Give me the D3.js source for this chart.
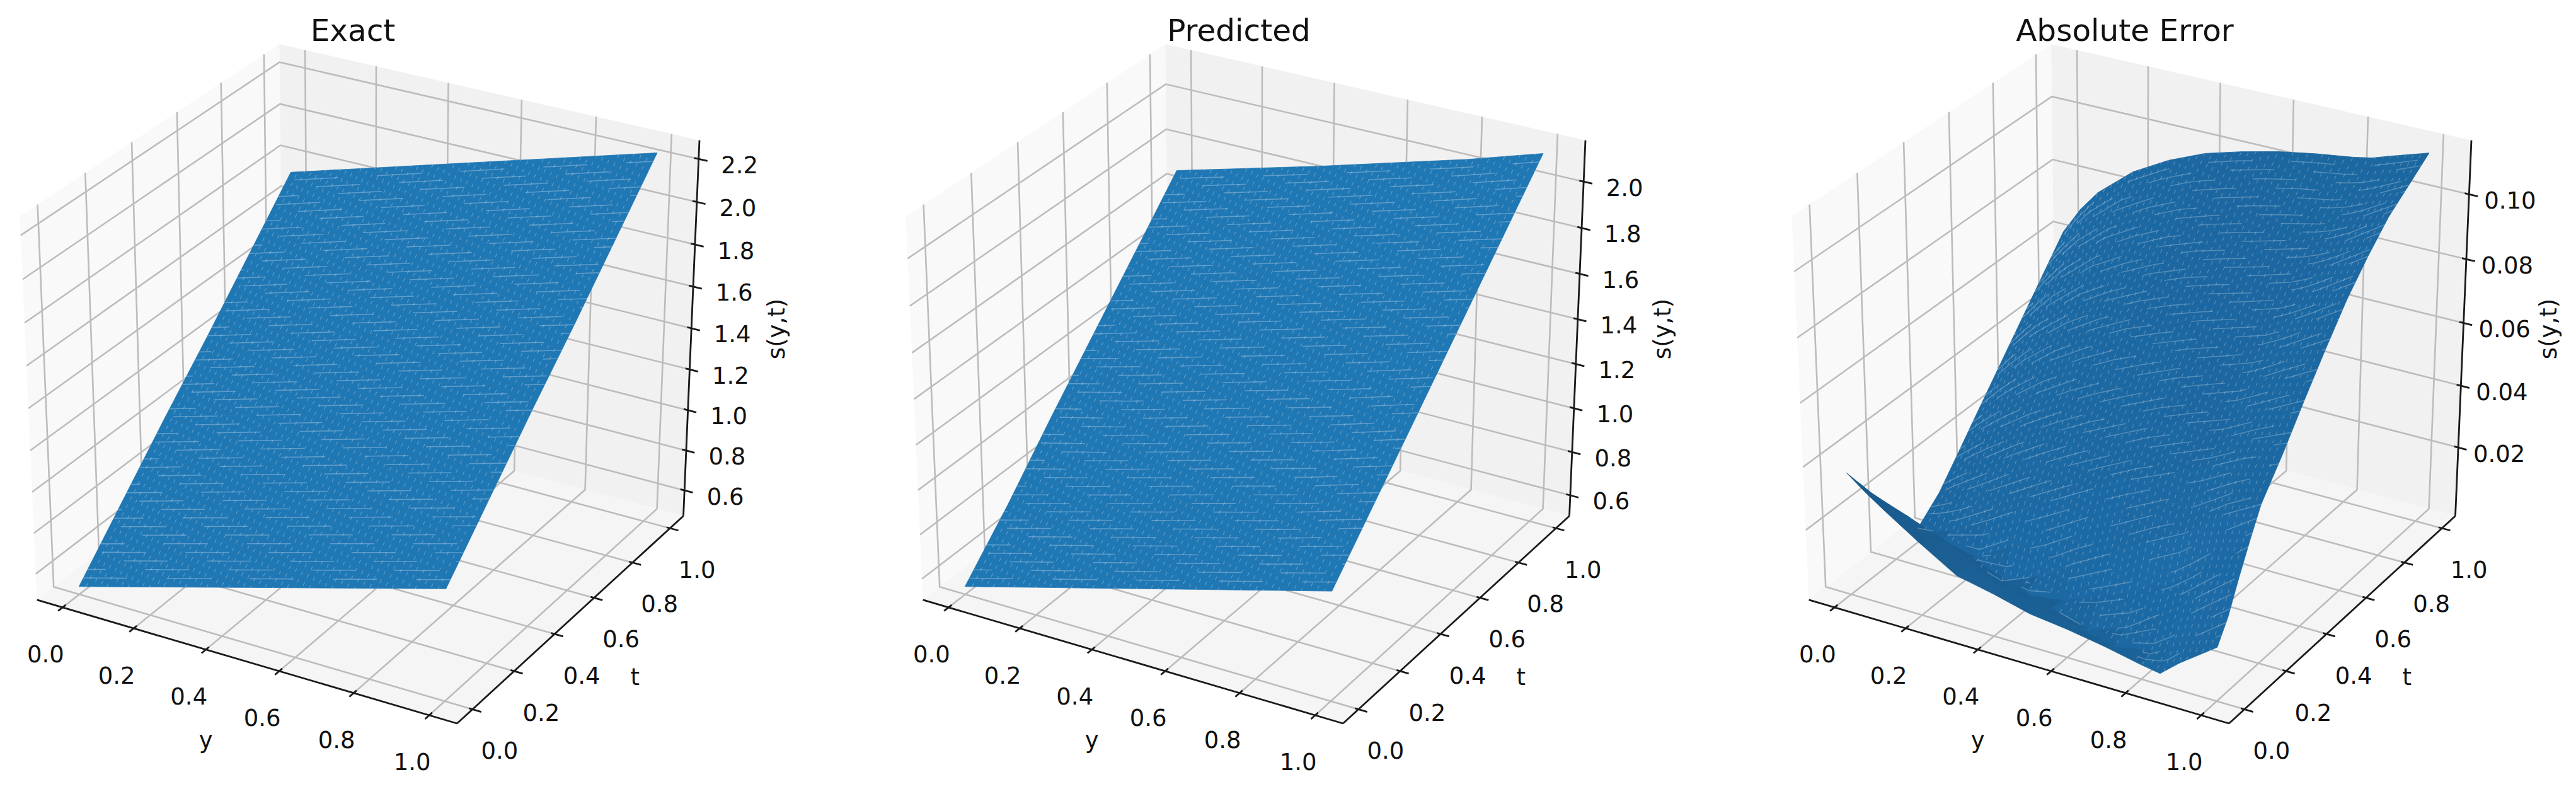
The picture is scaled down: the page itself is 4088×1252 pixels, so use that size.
<!DOCTYPE html>
<html>
<head>
<meta charset="utf-8">
<script src="https://cdn.jsdelivr.net/npm/d3@7"></script>
<style>
  body { margin: 0; background: #fff; }
  text { font-family: "DejaVu Sans", sans-serif; fill: #111; }
</style>
</head>
<body>
<script>
// Tick labels
const unitTicks = [0, 0.2, 0.4, 0.6, 0.8, 1];
const exactTicks = [0.6, 0.8, 1.0, 1.2, 1.4, 1.6, 1.8, 2.0, 2.2];
const predictedTicks = [0.6, 0.8, 1.0, 1.2, 1.4, 1.6, 1.8, 2.0];
const errorTicks = [0.02, 0.04, 0.06, 0.08, 0.10];

// Grid nodes of the two plane-like surfaces
const planeY = [0, 0.2, 0.4, 0.6, 0.8, 1];
const planeT = [0, 0.2, 0.4, 0.6, 0.8, 1];

// s(y,t), one row per t
const exactValues = [
  [0.51, 0.61, 0.71, 0.81, 0.91, 1.01],
  [0.76, 0.86, 0.96, 1.06, 1.16, 1.26],
  [1.01, 1.11, 1.21, 1.31, 1.41, 1.51],
  [1.25, 1.35, 1.45, 1.55, 1.65, 1.75],
  [1.50, 1.60, 1.70, 1.80, 1.90, 2.00],
  [1.75, 1.85, 1.95, 2.05, 2.15, 2.25]
];
const predictedValues = [
  [0.54, 0.63, 0.72, 0.81, 0.90, 0.99],
  [0.76, 0.85, 0.94, 1.03, 1.12, 1.22],
  [1.00, 1.08, 1.17, 1.26, 1.35, 1.45],
  [1.23, 1.32, 1.41, 1.50, 1.59, 1.68],
  [1.46, 1.55, 1.64, 1.73, 1.82, 1.91],
  [1.69, 1.775, 1.86, 1.95, 2.04, 2.14]
];

// Error surface has a fold near t=0, so it gets more rows and columns
const errorY = [0, 0.05, 0.1, 0.2, 0.3, 0.4, 0.5, 0.6, 0.7, 0.8, 0.85, 0.9, 1];
const errorT = [0, 0.05, 0.1, 0.15, 0.2, 0.25, 0.3, 0.4, 0.5, 0.6, 0.7, 0.8, 0.9, 1];
const errorValues = [
  [0.0365, 0.0320, 0.0280, 0.0205, 0.0135, 0.0110, 0.0080, 0.0065, 0.0045, 0.0020, 0.0010, 0.0060, 0.0145],
  [0.0306, 0.0275, 0.0245, 0.0185, 0.0130, 0.0095, 0.0062, 0.0040, 0.0015, 0.0035, 0.0075, 0.0125, 0.0212],
  [0.0247, 0.0225, 0.0205, 0.0160, 0.0115, 0.0075, 0.0040, 0.0005, 0.0045, 0.0125, 0.0165, 0.0215, 0.0307],
  [0.0189, 0.0170, 0.0150, 0.0110, 0.0065, 0.0022, 0.0035, 0.0085, 0.0135, 0.0200, 0.0245, 0.0295, 0.0394],
  [0.0130, 0.0108, 0.0085, 0.0040, 0.0003, 0.0050, 0.0125, 0.0190, 0.0260, 0.0320, 0.0365, 0.0410, 0.0475],
  [0.0075, 0.0055, 0.0035, 0.0020, 0.0090, 0.0150, 0.0220, 0.0280, 0.0340, 0.0395, 0.0430, 0.0465, 0.0525],
  [0.0020, 0.0025, 0.0045, 0.0110, 0.0180, 0.0245, 0.0310, 0.0370, 0.0420, 0.0470, 0.0500, 0.0530, 0.0575],
  [0.0081, 0.0122, 0.0160, 0.0235, 0.0305, 0.0370, 0.0425, 0.0480, 0.0525, 0.0565, 0.0595, 0.0625, 0.0685],
  [0.0171, 0.0220, 0.0265, 0.0345, 0.0415, 0.0475, 0.0530, 0.0580, 0.0620, 0.0660, 0.0690, 0.0725, 0.0790],
  [0.0262, 0.0322, 0.0375, 0.0465, 0.0535, 0.0595, 0.0640, 0.0680, 0.0715, 0.0750, 0.0780, 0.0815, 0.0889],
  [0.0352, 0.0418, 0.0475, 0.0565, 0.0635, 0.0690, 0.0735, 0.0770, 0.0800, 0.0835, 0.0860, 0.0895, 0.0970],
  [0.0442, 0.0510, 0.0570, 0.0665, 0.0730, 0.0785, 0.0825, 0.0855, 0.0885, 0.0915, 0.0935, 0.0965, 0.1041],
  [0.0532, 0.0605, 0.0670, 0.0765, 0.0830, 0.0880, 0.0915, 0.0945, 0.0970, 0.0990, 0.1005, 0.1030, 0.1090],
  [0.0622, 0.0708, 0.0775, 0.0868, 0.0931, 0.0979, 0.1011, 0.1038, 0.1058, 0.1074, 0.1085, 0.1104, 0.1140]
];

const panels = [
  { title: "Exact", dx: 0, ys: planeY, ts: planeT, values: exactValues, zTicks: exactTicks, zFrame: [0.471, 2.286], shaded: false, zFormat: d3.format(".1f") },
  { title: "Predicted", dx: 1406, ys: planeY, ts: planeT, values: predictedValues, zTicks: predictedTicks, zFrame: [0.504, 2.176], shaded: false, zFormat: d3.format(".1f") },
  { title: "Absolute Error", dx: 2812, ys: errorY, ts: errorT, values: errorValues, zTicks: errorTicks, zFrame: [-0.00256, 0.1164], shaded: true, zFormat: d3.format(".2f") }
];

const svg = d3.select("body").append("svg")
  .attr("width", 4088)
  .attr("height", 1252);

// Same camera as a default mplot3d axes (elev 30, azim -60, dist 10)
const elev = 30 * Math.PI / 180;
const azim = -60 * Math.PI / 180;
const dist = 10;
const n = [Math.cos(elev) * Math.cos(azim), Math.cos(elev) * Math.sin(azim), Math.sin(elev)];
const u = [-n[1] / Math.hypot(n[0], n[1]), n[0] / Math.hypot(n[0], n[1]), 0];
const v = [n[1] * u[2] - n[2] * u[1], n[2] * u[0] - n[0] * u[2], n[0] * u[1] - n[1] * u[0]];
const dot = (a, b) => a[0] * b[0] + a[1] * b[1] + a[2] * b[2];

function view(p) {
  const s = dist / (dist - dot(p, n));
  return [dot(p, u) * s, dot(p, v) * s];
}

// Box corners decide how view coordinates land on the page
const corners = d3.cross([-0.5, 0.5], d3.cross([-0.5, 0.5], [-0.5, 0.5]), (a, b) => [a, b[0], b[1]]).map(view);
const pageX = d3.scaleLinear().domain(d3.extent(corners, d => d[0])).range([31.5, 1110]);
const pageY = d3.scaleLinear().domain(d3.extent(corners, d => d[1])).range([1148, 70]);
const toPage = p => { const w = view(p); return [pageX(w[0]), pageY(w[1])]; };

// Data 0..1 sits inside the pane with the usual margins
const unitFrame = d3.scaleLinear().domain([-0.0729, 1.0729]).range([-0.5, 0.5]);
const line = d3.line();

// Only the fold strip really changes colour, the rest stays close to one blue
const shadeColor = d3.scaleLinear()
  .domain([0.22, 0.36, 0.55])
  .range(["#1a5a8b", "#1b659e", "#1d6ca8"])
  .clamp(true);

function drawPanel(cfg) {
  const g = svg.append("g").attr("transform", `translate(${cfg.dx},0)`);
  const zFrame = d3.scaleLinear().domain(cfg.zFrame).range([-0.5, 0.5]);

  // Panes
  const panes = [
    { pts: [[-.5, -.5, -.5], [-.5, .5, -.5], [-.5, .5, .5], [-.5, -.5, .5]], fill: "#f9f9f9" },
    { pts: [[-.5, .5, -.5], [.5, .5, -.5], [.5, .5, .5], [-.5, .5, .5]], fill: "#f1f1f1" },
    { pts: [[-.5, -.5, -.5], [.5, -.5, -.5], [.5, .5, -.5], [-.5, .5, -.5]], fill: "#f5f5f5" }
  ];
  g.selectAll(".pane").data(panes).enter().append("path")
    .attr("class", "pane")
    .attr("d", d => line(d.pts.map(toPage)) + "Z")
    .attr("fill", d => d.fill);

  // Grid lines on the panes
  const gridPaths = [];
  unitTicks.forEach(d => {
    const a = unitFrame(d);
    gridPaths.push([[a, -.5, -.5], [a, .5, -.5], [a, .5, .5]]);
    gridPaths.push([[-.5, a, .5], [-.5, a, -.5], [.5, a, -.5]]);
  });
  cfg.zTicks.forEach(d => {
    const a = zFrame(d);
    gridPaths.push([[-.5, -.5, a], [-.5, .5, a], [.5, .5, a]]);
  });
  g.selectAll(".grid").data(gridPaths).enter().append("path")
    .attr("class", "grid")
    .attr("d", d => line(d.map(toPage)))
    .attr("fill", "none")
    .attr("stroke", "#bcbcbc")
    .attr("stroke-width", 2.6);

  // Surface
  drawSurface(g, cfg, zFrame);

  // Axis lines and ticks
  const axisPaths = [
    [[-.5, -.5, -.5], [.5, -.5, -.5]],
    [[.5, -.5, -.5], [.5, .5, -.5]],
    [[.5, .5, -.5], [.5, .5, .5]]
  ];
  unitTicks.forEach(d => {
    const a = unitFrame(d);
    axisPaths.push([[a, -.5 - .017, -.5], [a, -.5 + .012, -.5]]);
    axisPaths.push([[.5 - .008, a, -.5], [.5 + .02, a, -.5]]);
  });
  cfg.zTicks.forEach(d => {
    const a = zFrame(d);
    axisPaths.push([[.5 - .01, .5, a], [.5 + .02, .5, a]]);
  });
  g.selectAll(".axis").data(axisPaths).enter().append("path")
    .attr("class", "axis")
    .attr("d", d => line(d.map(toPage)))
    .attr("fill", "none")
    .attr("stroke", "#1a1a1a")
    .attr("stroke-width", 2.8);

  // Tick labels
  const labels = [];
  unitTicks.forEach(d => {
    const a = unitFrame(d);
    const px = toPage([a, -.5, -.5]);
    labels.push({ x: px[0] - 27, y: px[1] + 75, text: d3.format(".1f")(d) });
    const pt = toPage([.5, a, -.5]);
    labels.push({ x: pt[0] + 43, y: pt[1] + 66, text: d3.format(".1f")(d) });
  });
  cfg.zTicks.forEach(d => {
    const pz = toPage([.5, .5, zFrame(d)]);
    labels.push({ x: pz[0] + 65, y: pz[1] + 10, text: cfg.zFormat(d) });
  });
  g.selectAll(".tick-label").data(labels).enter().append("text")
    .attr("class", "tick-label")
    .attr("x", d => d.x)
    .attr("y", d => d.y)
    .attr("text-anchor", "middle")
    .attr("dominant-baseline", "central")
    .attr("font-size", 37)
    .text(d => d.text);

  // Axis names
  const xMid = toPage([0, -.5, -.5]);
  const tMid = toPage([.5, 0, -.5]);
  const zMid = toPage([.5, .5, 0]);
  g.append("text").attr("x", xMid[0] - 58).attr("y", xMid[1] + 127)
    .attr("text-anchor", "middle").attr("dominant-baseline", "central").attr("font-size", 37).text("y");
  g.append("text").attr("x", tMid[0] + 96).attr("y", tMid[1] + 97)
    .attr("text-anchor", "middle").attr("dominant-baseline", "central").attr("font-size", 37).text("t");
  g.append("text")
    .attr("transform", `translate(${zMid[0] + 136},${zMid[1] - 6}) rotate(-90)`)
    .attr("text-anchor", "middle").attr("dominant-baseline", "central").attr("font-size", 37).text("s(y,t)");

  // Title
  g.append("text").attr("x", 560).attr("y", 65)
    .attr("text-anchor", "middle").attr("font-size", 48.5).text(cfg.title);
}

function drawSurface(g, cfg, zFrame) {
  const at = (j, i) => [unitFrame(cfg.ys[i]), unitFrame(cfg.ts[j]), zFrame(cfg.values[j][i])];

  const patches = [];
  for (let j = 0; j < cfg.ts.length - 1; j++) {
    for (let i = 0; i < cfg.ys.length - 1; i++) {
      const pts = [at(j, i), at(j, i + 1), at(j + 1, i + 1), at(j + 1, i)];
      const vals = cfg.values;
      const dzdy = (vals[j][i + 1] + vals[j + 1][i + 1] - vals[j][i] - vals[j + 1][i]) / 2 / (cfg.ys[i + 1] - cfg.ys[i]);
      const dzdt = (vals[j + 1][i] + vals[j + 1][i + 1] - vals[j][i] - vals[j][i + 1]) / 2 / (cfg.ts[j + 1] - cfg.ts[j]);
      const shade = (dzdy + dzdt + 0.5) / 1.5 / Math.hypot(dzdy, dzdt, 1);
      patches.push({
        pts,
        depth: d3.mean(pts, p => dot(p, n)),
        fill: cfg.shaded ? shadeColor(shade) : "#1f77b4"
      });
    }
  }
  patches.sort((a, b) => d3.ascending(a.depth, b.depth));

  g.selectAll(".patch").data(patches).enter().append("path")
    .attr("class", "patch")
    .attr("d", d => line(d.pts.map(toPage)) + "Z")
    .attr("fill", d => d.fill)
    .attr("stroke", d => d.fill)
    .attr("stroke-width", 0.8)
    .attr("stroke-linejoin", "round");

  // Faint facet seams, like the anti-aliasing gaps of a 50x50 surface
  const sample = (y, t) => {
    const i = Math.min(d3.bisectRight(cfg.ys, y) - 1, cfg.ys.length - 2);
    const j = Math.min(d3.bisectRight(cfg.ts, t) - 1, cfg.ts.length - 2);
    const fy = (y - cfg.ys[i]) / (cfg.ys[i + 1] - cfg.ys[i]);
    const ft = (t - cfg.ts[j]) / (cfg.ts[j + 1] - cfg.ts[j]);
    const lo = cfg.values[j][i] * (1 - fy) + cfg.values[j][i + 1] * fy;
    const hi = cfg.values[j + 1][i] * (1 - fy) + cfg.values[j + 1][i + 1] * fy;
    const slope = (hi - lo) / (cfg.ts[j + 1] - cfg.ts[j]);
    return { p: toPage([unitFrame(y), unitFrame(t), zFrame(lo * (1 - ft) + hi * ft)]), fold: cfg.shaded && slope < 0 };
  };
  const seam = d3.line().defined(d => !d.fold).x(d => d.p[0]).y(d => d.p[1]);
  const steps = d3.range(51).map(k => k / 50);

  g.selectAll(".seam-t").data(steps.slice(1, -1)).enter().append("path")
    .attr("class", "seam-t")
    .attr("d", t => seam(steps.map(y => sample(y, t))))
    .attr("fill", "none")
    .attr("stroke", "#fff")
    .attr("stroke-opacity", cfg.shaded ? 0.24 : 0.28)
    .attr("stroke-width", 1.6)
    .attr("stroke-dasharray", "70 62")
    .attr("stroke-dashoffset", (t, k) => k * 41);

  g.selectAll(".seam-y").data(steps.slice(1, -1)).enter().append("path")
    .attr("class", "seam-y")
    .attr("d", y => seam(steps.map(t => sample(y, t))))
    .attr("fill", "none")
    .attr("stroke", "#fff")
    .attr("stroke-opacity", cfg.shaded ? 0.24 : 0.26)
    .attr("stroke-width", 1.3)
    .attr("stroke-dasharray", "6 8")
    .attr("stroke-dashoffset", (y, k) => k * 5);
}

panels.forEach(drawPanel);
</script>
</body>
</html>
